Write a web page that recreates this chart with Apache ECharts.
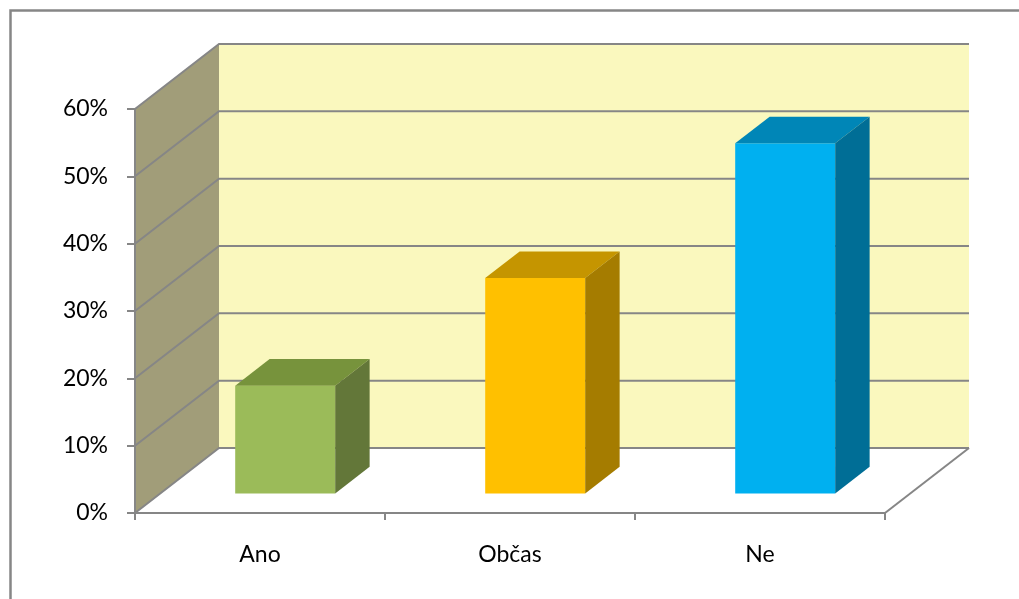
<!DOCTYPE html>
<html>
<head>
<meta charset="utf-8">
<script src="https://cdn.jsdelivr.net/npm/echarts@6/dist/echarts.min.js"></script>
<style>
  html, body { margin: 0; padding: 0; background: #ffffff; }
  #chart { width: 1019px; height: 599px; }
</style>
</head>
<body>
<div id="chart"></div>
<script>
// Survey answers and their shares
const categories = ['Ano', 'Občas', 'Ne'];
const shares = [0.16, 0.32, 0.52];
const yTicks = [0, 0.1, 0.2, 0.3, 0.4, 0.5, 0.6];

// Bar colours: front, top, side
const barColors = [
  ['#9BBB59', '#77933C', '#637739'],
  ['#FFC000', '#C59500', '#A57C00'],
  ['#00B0F0', '#0086B7', '#006E96']
];

// Oblique depth of the 3D box (pixels from front plane to back wall)
const DX = 84, DY = -65;
// Depth slice occupied by the bars (fractions of full depth)
const F_FRONT = 0.3, F_BACK = 0.71;
const GRID_COLOR = '#868686';

const chart = echarts.init(document.getElementById('chart'));

function wallsRender(params, api) {
  const cs = params.coordSys;
  const x0 = cs.x, x1 = cs.x + cs.width;
  const y0 = api.coord([0, yTicks[0]])[1];
  const yTop = api.coord([0, yTicks[yTicks.length - 1]])[1];
  const children = [];
  // back wall
  children.push({
    type: 'polygon',
    shape: { points: [[x0 + DX, yTop + DY], [x1 + DX, yTop + DY], [x1 + DX, y0 + DY], [x0 + DX, y0 + DY]] },
    style: { fill: '#FAF8BE' }
  });
  // side wall
  children.push({
    type: 'polygon',
    shape: { points: [[x0, yTop], [x0 + DX, yTop + DY], [x0 + DX, y0 + DY], [x0, y0]] },
    style: { fill: '#A19D79' }
  });
  // floor
  children.push({
    type: 'polygon',
    shape: { points: [[x0, y0], [x0 + DX, y0 + DY], [x1 + DX, y0 + DY], [x1, y0]] },
    style: { fill: '#FFFFFF' }
  });
  // grid lines on side and back wall
  yTicks.forEach(function (t) {
    const y = api.coord([0, t])[1];
    children.push({
      type: 'polyline',
      shape: { points: [[x0, y], [x0 + DX, y + DY], [x1 + DX, y + DY]] },
      style: { stroke: GRID_COLOR, lineWidth: 2, fill: null }
    });
  });
  // right edge of the floor
  children.push({
    type: 'line',
    shape: { x1: x1 + DX, y1: y0 + DY, x2: x1, y2: y0 },
    style: { stroke: GRID_COLOR, lineWidth: 2 }
  });
  return { type: 'group', children: children };
}

function barRender(params, api) {
  const i = api.value(0);
  const v = api.value(1);
  const base = api.coord([i, 0]);
  const top = api.coord([i, v]);
  const bw = api.size([1, 0])[0];
  const hw = bw * 0.2;
  const c = barColors[i];
  const fx = F_FRONT * DX, fy = F_FRONT * DY;
  const bx = F_BACK * DX, by = F_BACK * DY;
  const L = base[0] - hw, R = base[0] + hw;
  const yb = base[1], yt = top[1];
  return {
    type: 'group',
    children: [
      { // front face
        type: 'polygon',
        shape: { points: [[L + fx, yt + fy], [R + fx, yt + fy], [R + fx, yb + fy], [L + fx, yb + fy]] },
        style: { fill: c[0] }
      },
      { // top face
        type: 'polygon',
        shape: { points: [[L + fx, yt + fy], [R + fx, yt + fy], [R + bx, yt + by], [L + bx, yt + by]] },
        style: { fill: c[1] }
      },
      { // side face
        type: 'polygon',
        shape: { points: [[R + fx, yt + fy], [R + bx, yt + by], [R + bx, yb + by], [R + fx, yb + fy]] },
        style: { fill: c[2] }
      }
    ]
  };
}

chart.setOption({
  animation: false,
  backgroundColor: '#ffffff',
  graphic: [{
    type: 'rect',
    left: 8, top: 8,
    shape: { x: 0, y: 0, width: 1100, height: 700 },
    style: { fill: null, stroke: GRID_COLOR, lineWidth: 2.5 },
    z: 10
  }],
  grid: { left: 135, right: 134, top: 109, bottom: 86, containLabel: false },
  xAxis: {
    type: 'category',
    data: categories,
    boundaryGap: true,
    axisLine: { show: true, lineStyle: { color: GRID_COLOR, width: 2 } },
    axisTick: { show: true, length: 7, lineStyle: { color: GRID_COLOR, width: 2 } },
    axisLabel: { color: '#000000', fontFamily: 'Lato', fontSize: 23, margin: 30 },
    splitLine: { show: false },
    z: 5
  },
  yAxis: {
    type: 'value',
    min: 0, max: 0.6, interval: 0.1,
    axisLine: { show: true, lineStyle: { color: GRID_COLOR, width: 2 } },
    axisTick: { show: true, length: 8, lineStyle: { color: GRID_COLOR, width: 2 } },
    axisLabel: {
      color: '#000000', fontFamily: 'Lato', fontSize: 23, margin: 27,
      formatter: function (v) { return Math.round(v * 100) + '%'; }
    },
    splitLine: { show: false },
    z: 5
  },
  series: [
    {
      type: 'custom',
      renderItem: wallsRender,
      data: [[0, 0]],
      z: 1,
      silent: true
    },
    {
      type: 'custom',
      renderItem: barRender,
      data: shares.map(function (v, i) { return [i, v]; }),
      encode: { x: 0, y: 1 },
      z: 3
    }
  ]
});
</script>
</body>
</html>
